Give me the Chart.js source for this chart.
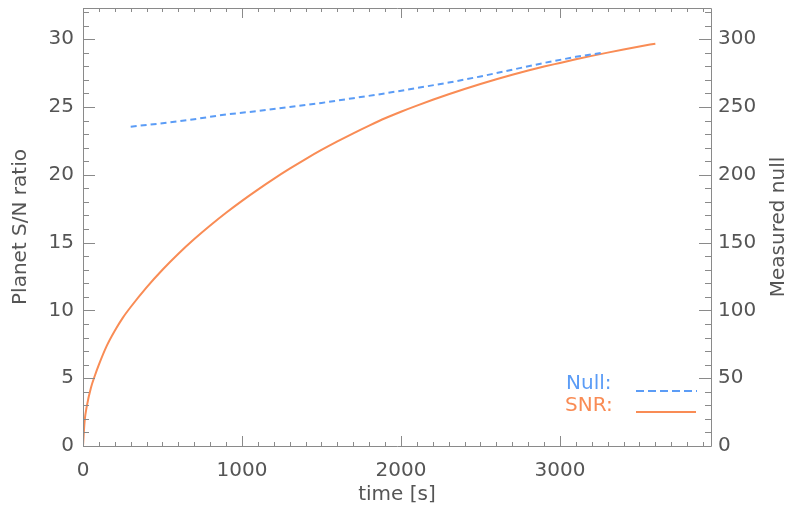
<!DOCTYPE html>
<html><head><meta charset="utf-8">
<script src="https://cdn.jsdelivr.net/npm/chart.js@4/dist/chart.umd.min.js"></script>
<style>html,body{margin:0;padding:0;background:#fff}#wrap{width:786px;height:510px}</style>
</head><body><div id="wrap"><canvas id="c" width="786" height="510"></canvas></div>
<script>
// ---- data ----
const snrTime = [0, 10, 25, 50, 75, 100, 150, 200, 250, 300, 400, 500, 600, 700, 800, 900, 1000, 1100, 1200, 1300, 1400, 1500, 1600, 1700, 1800, 1900, 2000, 2100, 2200, 2300, 2400, 2500, 2600, 2700, 2800, 2900, 3000, 3100, 3200, 3300, 3400, 3500, 3600];
const snrValues = [0, 1.8, 3.0, 4.3, 5.2, 6.0, 7.4, 8.5, 9.45, 10.25, 11.7, 13.0, 14.18, 15.26, 16.26, 17.2, 18.08, 18.91, 19.7, 20.45, 21.16, 21.83, 22.46, 23.06, 23.63, 24.17, 24.65, 25.1, 25.53, 25.94, 26.33, 26.7, 27.05, 27.38, 27.69, 27.98, 28.25, 28.52, 28.77, 29.01, 29.24, 29.46, 29.67];
const nullTime = [300, 500, 700, 900, 1100, 1300, 1500, 1700, 1900, 2100, 2300, 2500, 2700, 2900, 3100, 3270];
const nullValues = [235.5, 238, 241, 244.5, 247, 250, 253, 256.5, 260, 264, 268, 272.5, 277.5, 282.5, 287, 290];
const xTickValues = [0, 1000, 2000, 3000];
const xTickLabels = ['0', '1000', '2000', '3000'];
const leftTickValues = [0, 5, 10, 15, 20, 25, 30];
const leftTickLabels = ['0', '5', '10', '15', '20', '25', '30'];
const rightTickValues = [0, 50, 100, 150, 200, 250, 300];
const rightTickLabels = ['0', '50', '100', '150', '200', '250', '300'];
const legendLabels = ['Null:', 'SNR:'];
const rightTitle = 'Measured null';

const BLUE = '#5b9cf6';
const ORANGE = '#f98c55';
const AXIS = '#8a8a8a';
const TEXT = '#555555';
const FONT = {family: 'DejaVu Sans', size: 20};

const boxTicks = {
  id: 'boxTicks',
  afterDraw(chart) {
    const {ctx, chartArea: a, scales} = chart;
    ctx.save();
    ctx.strokeStyle = AXIS;
    ctx.lineWidth = 1;
    ctx.beginPath();
    ctx.rect(Math.round(a.left) + 0.5, Math.round(a.top) + 0.5, Math.round(a.right - a.left), Math.round(a.bottom - a.top));
    ctx.stroke();
    const line = (x1, y1, x2, y2) => { ctx.beginPath(); ctx.moveTo(x1, y1); ctx.lineTo(x2, y2); ctx.stroke(); };
    const sx = scales.x;
    for (let v = 0; v <= sx.max + 1e-6; v += 100) {
      const px = Math.round(sx.getPixelForValue(v)) + 0.5;
      const major = Math.abs(v % 1000) < 1e-6;
      const len = major ? 10 : 4;
      line(px, a.bottom, px, a.bottom - len);
      line(px, a.top, px, a.top + len);
    }
    const sy = scales.y;
    for (let v = 0; v <= sy.max + 1e-6; v += 1) {
      const py = Math.round(sy.getPixelForValue(v)) + 0.5;
      const major = v % 5 === 0;
      line(a.left, py, a.left + (major ? 12 : 6), py);
    }
    const sy2 = scales.y2;
    for (let v = 0; v <= sy2.max + 1e-6; v += 10) {
      const py = Math.round(sy2.getPixelForValue(v)) + 0.5;
      const major = v % 50 === 0;
      line(a.right, py, a.right - (major ? 12 : 6), py);
    }
    // right axis title (reads bottom to top)
    ctx.font = '20px "DejaVu Sans"';
    ctx.fillStyle = TEXT;
    ctx.textAlign = 'center';
    ctx.textBaseline = 'middle';
    ctx.save();
    ctx.translate(779, (a.top + a.bottom) / 2);
    ctx.rotate(-Math.PI / 2);
    ctx.fillText(rightTitle, 0, 0);
    ctx.restore();
    // legend
    ctx.textAlign = 'left';
    ctx.fillStyle = BLUE;
    ctx.fillText(legendLabels[0], 566, 384);
    ctx.fillStyle = ORANGE;
    ctx.fillText(legendLabels[1], 565, 406);
    ctx.lineWidth = 2;
    ctx.strokeStyle = BLUE;
    ctx.setLineDash([8, 4]);
    line(636, 391, 697, 391);
    ctx.setLineDash([]);
    ctx.strokeStyle = ORANGE;
    line(636, 412, 696, 412);
    ctx.restore();
  }
};

const noPad = s => { s.paddingTop = 0; s.paddingBottom = 0; s.paddingLeft = 0; s.paddingRight = 0; };

new Chart(document.getElementById('c'), {
  type: 'line',
  data: {
    datasets: [
      {
        label: 'Null',
        data: nullTime.map((t, i) => ({x: t, y: nullValues[i]})),
        yAxisID: 'y2',
        borderColor: BLUE,
        borderWidth: 2,
        borderDash: [6, 4],
        pointRadius: 0,
        tension: 0,
        fill: false
      },
      {
        label: 'SNR',
        data: snrTime.map((t, i) => ({x: t, y: snrValues[i]})),
        yAxisID: 'y',
        borderColor: ORANGE,
        borderWidth: 2,
        pointRadius: 0,
        cubicInterpolationMode: 'monotone',
        fill: false
      }
    ]
  },
  options: {
    responsive: false,
    animation: false,
    devicePixelRatio: 1,
    layout: {padding: {top: 8, left: 0, right: 0, bottom: 0}},
    plugins: {legend: {display: false}, tooltip: {enabled: false}},
    scales: {
      x: {
        type: 'linear', position: 'bottom', min: 0, max: 3950,
        grid: {display: false, drawTicks: false}, border: {display: false},
        afterFit(s) { s.height = 64; noPad(s); },
        afterBuildTicks(s) { s.ticks = xTickValues.map(v => ({value: v})); },
        ticks: {
          font: FONT, color: TEXT, padding: 13, maxRotation: 0, autoSkip: false,
          callback: (v, i) => xTickLabels[i]
        },
        title: {display: true, text: 'time [s]', font: FONT, color: TEXT, padding: {top: 0, bottom: 3}}
      },
      y: {
        type: 'linear', position: 'left', min: 0, max: 32.3,
        grid: {display: false, drawTicks: false}, border: {display: false},
        afterFit(s) { s.width = 83; noPad(s); },
        afterBuildTicks(s) { s.ticks = leftTickValues.map(v => ({value: v})); },
        ticks: {
          font: FONT, color: TEXT, padding: 9, autoSkip: false,
          callback: (v, i) => leftTickLabels[i]
        },
        title: {display: true, text: 'Planet S/N ratio', font: FONT, color: TEXT, padding: {top: 9, bottom: 0}}
      },
      y2: {
        type: 'linear', position: 'right', min: 0, max: 323,
        grid: {display: false, drawTicks: false}, border: {display: false},
        afterFit(s) { s.width = 75; noPad(s); },
        afterBuildTicks(s) { s.ticks = rightTickValues.map(v => ({value: v})); },
        ticks: {
          font: FONT, color: TEXT, padding: 7, autoSkip: false,
          callback: (v, i) => rightTickLabels[i]
        },
        title: {display: false}
      }
    }
  },
  plugins: [boxTicks]
});
</script>
</body></html>
